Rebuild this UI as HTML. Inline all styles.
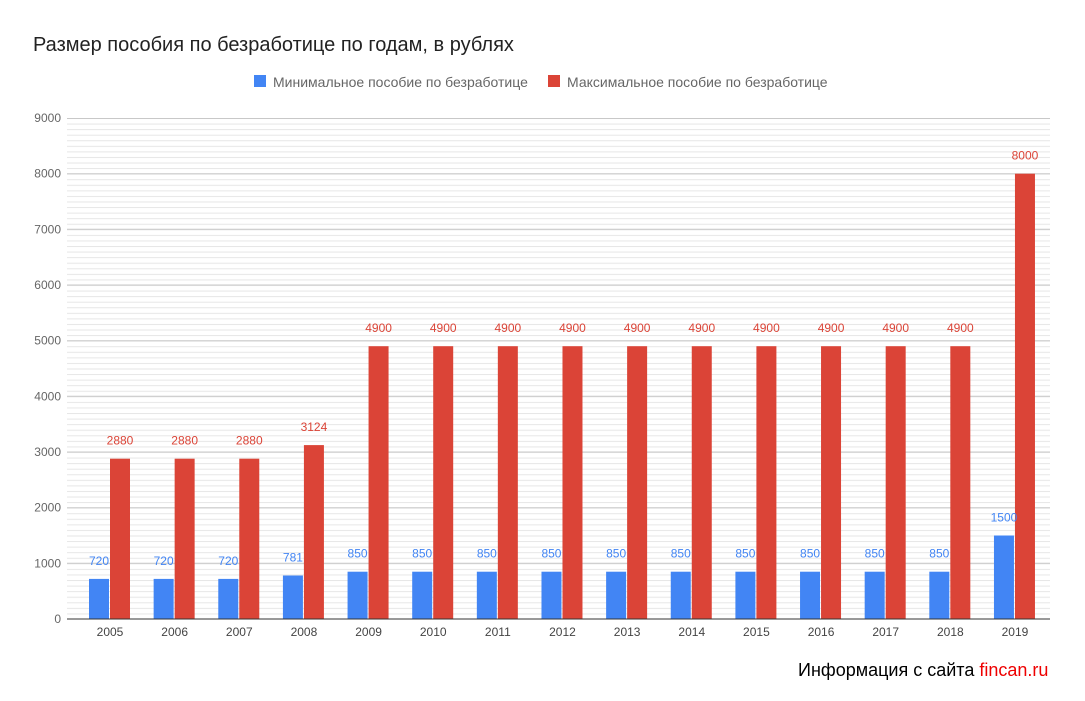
<!DOCTYPE html>
<html><head><meta charset="utf-8"><style>body{margin:0;background:#fff}svg{display:block}text{font-family:"Liberation Sans",sans-serif}</style></head><body>
<svg width="1085" height="701" xmlns="http://www.w3.org/2000/svg">
<defs>
<pattern id="mn" patternUnits="userSpaceOnUse" x="0" y="118" width="10" height="5.5667"><line x1="0" x2="10" y1="0.5" y2="0.5" stroke="#e6e6e6"/></pattern>
</defs>
<text x="33" y="51" font-size="20" fill="#222">Размер пособия по безработице по годам, в рублях</text>
<rect x="254" y="75" width="12" height="12" fill="#4285f4"/>
<text x="273" y="87" font-size="14" fill="#666">Минимальное пособие по безработице</text>
<rect x="548" y="75" width="12" height="12" fill="#db4437"/>
<text x="567" y="87" font-size="14" fill="#666">Максимальное пособие по безработице</text>
<rect x="67" y="118" width="983" height="501" fill="url(#mn)"/>
<g stroke="#c8c8c8">
<line x1="67" x2="1050" y1="563.3" y2="563.3"/><line x1="67" x2="1050" y1="507.7" y2="507.7"/><line x1="67" x2="1050" y1="452" y2="452"/><line x1="67" x2="1050" y1="396.3" y2="396.3"/><line x1="67" x2="1050" y1="340.7" y2="340.7"/><line x1="67" x2="1050" y1="285" y2="285"/><line x1="67" x2="1050" y1="229.3" y2="229.3"/><line x1="67" x2="1050" y1="173.7" y2="173.7"/><line x1="67" x2="1050" y1="118.5" y2="118.5"/>
</g>
<g font-size="12" fill="#666" text-anchor="end">
<text x="61" y="623">0</text><text x="61" y="567.3">1000</text><text x="61" y="511.7">2000</text><text x="61" y="456">3000</text><text x="61" y="400.3">4000</text><text x="61" y="344.7">5000</text><text x="61" y="289">6000</text><text x="61" y="233.3">7000</text><text x="61" y="177.7">8000</text><text x="61" y="122">9000</text>
</g>
<g font-size="12" text-anchor="middle">
<g transform="translate(110,0)"><rect x="-21" y="578.9" width="20" height="40.1" fill="#4285f4"/><rect x="0" y="458.7" width="20" height="160.3" fill="#db4437"/><text x="-11" y="565" fill="#4285f4">720</text><text x="10" y="444.7" fill="#db4437">2880</text><text x="0" y="636" fill="#444">2005</text></g>
<g transform="translate(174.64,0)"><rect x="-21" y="578.9" width="20" height="40.1" fill="#4285f4"/><rect x="0" y="458.7" width="20" height="160.3" fill="#db4437"/><text x="-11" y="565" fill="#4285f4">720</text><text x="10" y="444.7" fill="#db4437">2880</text><text x="0" y="636" fill="#444">2006</text></g>
<g transform="translate(239.28,0)"><rect x="-21" y="578.9" width="20" height="40.1" fill="#4285f4"/><rect x="0" y="458.7" width="20" height="160.3" fill="#db4437"/><text x="-11" y="565" fill="#4285f4">720</text><text x="10" y="444.7" fill="#db4437">2880</text><text x="0" y="636" fill="#444">2007</text></g>
<g transform="translate(303.92,0)"><rect x="-21" y="575.5" width="20" height="43.5" fill="#4285f4"/><rect x="0" y="445.1" width="20" height="173.9" fill="#db4437"/><text x="-11" y="561.5" fill="#4285f4">781</text><text x="10" y="431.1" fill="#db4437">3124</text><text x="0" y="636" fill="#444">2008</text></g>
<g transform="translate(368.56,0)"><rect x="-21" y="571.7" width="20" height="47.3" fill="#4285f4"/><rect x="0" y="346.2" width="20" height="272.8" fill="#db4437"/><text x="-11" y="557.7" fill="#4285f4">850</text><text x="10" y="332.2" fill="#db4437">4900</text><text x="0" y="636" fill="#444">2009</text></g>
<g transform="translate(433.2,0)"><rect x="-21" y="571.7" width="20" height="47.3" fill="#4285f4"/><rect x="0" y="346.2" width="20" height="272.8" fill="#db4437"/><text x="-11" y="557.7" fill="#4285f4">850</text><text x="10" y="332.2" fill="#db4437">4900</text><text x="0" y="636" fill="#444">2010</text></g>
<g transform="translate(497.84,0)"><rect x="-21" y="571.7" width="20" height="47.3" fill="#4285f4"/><rect x="0" y="346.2" width="20" height="272.8" fill="#db4437"/><text x="-11" y="557.7" fill="#4285f4">850</text><text x="10" y="332.2" fill="#db4437">4900</text><text x="0" y="636" fill="#444">2011</text></g>
<g transform="translate(562.48,0)"><rect x="-21" y="571.7" width="20" height="47.3" fill="#4285f4"/><rect x="0" y="346.2" width="20" height="272.8" fill="#db4437"/><text x="-11" y="557.7" fill="#4285f4">850</text><text x="10" y="332.2" fill="#db4437">4900</text><text x="0" y="636" fill="#444">2012</text></g>
<g transform="translate(627.12,0)"><rect x="-21" y="571.7" width="20" height="47.3" fill="#4285f4"/><rect x="0" y="346.2" width="20" height="272.8" fill="#db4437"/><text x="-11" y="557.7" fill="#4285f4">850</text><text x="10" y="332.2" fill="#db4437">4900</text><text x="0" y="636" fill="#444">2013</text></g>
<g transform="translate(691.76,0)"><rect x="-21" y="571.7" width="20" height="47.3" fill="#4285f4"/><rect x="0" y="346.2" width="20" height="272.8" fill="#db4437"/><text x="-11" y="557.7" fill="#4285f4">850</text><text x="10" y="332.2" fill="#db4437">4900</text><text x="0" y="636" fill="#444">2014</text></g>
<g transform="translate(756.4,0)"><rect x="-21" y="571.7" width="20" height="47.3" fill="#4285f4"/><rect x="0" y="346.2" width="20" height="272.8" fill="#db4437"/><text x="-11" y="557.7" fill="#4285f4">850</text><text x="10" y="332.2" fill="#db4437">4900</text><text x="0" y="636" fill="#444">2015</text></g>
<g transform="translate(821.04,0)"><rect x="-21" y="571.7" width="20" height="47.3" fill="#4285f4"/><rect x="0" y="346.2" width="20" height="272.8" fill="#db4437"/><text x="-11" y="557.7" fill="#4285f4">850</text><text x="10" y="332.2" fill="#db4437">4900</text><text x="0" y="636" fill="#444">2016</text></g>
<g transform="translate(885.68,0)"><rect x="-21" y="571.7" width="20" height="47.3" fill="#4285f4"/><rect x="0" y="346.2" width="20" height="272.8" fill="#db4437"/><text x="-11" y="557.7" fill="#4285f4">850</text><text x="10" y="332.2" fill="#db4437">4900</text><text x="0" y="636" fill="#444">2017</text></g>
<g transform="translate(950.32,0)"><rect x="-21" y="571.7" width="20" height="47.3" fill="#4285f4"/><rect x="0" y="346.2" width="20" height="272.8" fill="#db4437"/><text x="-11" y="557.7" fill="#4285f4">850</text><text x="10" y="332.2" fill="#db4437">4900</text><text x="0" y="636" fill="#444">2018</text></g>
<g transform="translate(1014.96,0)"><rect x="-21" y="535.5" width="20" height="83.5" fill="#4285f4"/><rect x="0" y="173.7" width="20" height="445.3" fill="#db4437"/><text x="-11" y="521.5" fill="#4285f4">1500</text><text x="10" y="159.7" fill="#db4437">8000</text><text x="0" y="636" fill="#444">2019</text></g>
</g>
<line x1="67" x2="1050" y1="619" y2="619" stroke="#333"/>
<text x="798" y="676" font-size="18" fill="#000">Информация с сайта <tspan fill="#e00">fincan.ru</tspan></text>
</svg>
</body></html>
